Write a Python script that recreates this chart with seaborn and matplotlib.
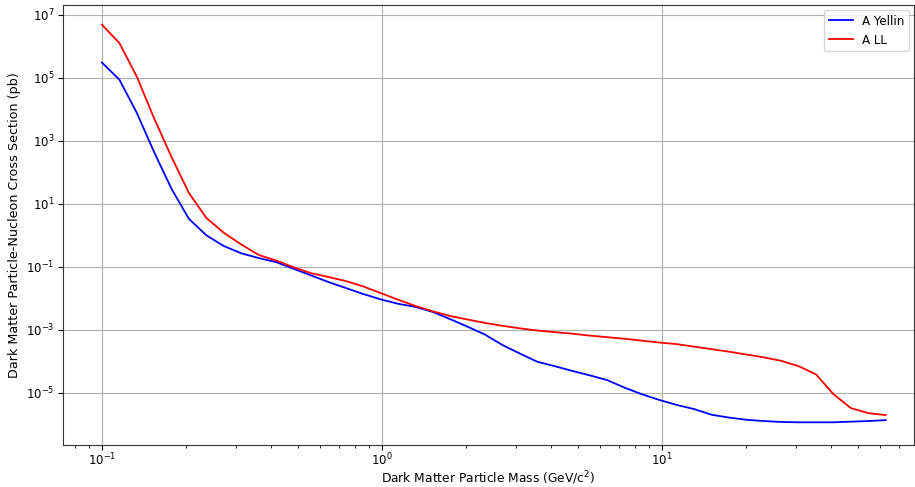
import numpy as np
import pandas as pd
import matplotlib
matplotlib.use("Agg")
import matplotlib.pyplot as plt
import matplotlib.ticker as mticker
import seaborn as sns

# Dark matter particle mass (GeV/c^2)
mass = [0.1000, 0.1154, 0.1331, 0.1536, 0.1773, 0.2046, 0.2361, 0.2725, 0.3145, 0.3629,
        0.4188, 0.4833, 0.5577, 0.6436, 0.7427, 0.8570, 0.9890, 1.141, 1.317, 1.520,
        1.754, 2.024, 2.336, 2.695, 3.110, 3.589, 4.142, 4.780, 5.516, 6.366,
        7.345, 8.477, 9.781, 11.29, 13.02, 15.03, 17.35, 20.02, 23.10, 26.66,
        30.76, 35.50, 40.97, 47.28, 54.56, 62.95]

# log10 of cross sections (pb)
log_yellin = [5.48, 4.94, 3.89, 2.64, 1.47, 0.52, 0.00, -0.34, -0.57, -0.72,
              -0.85, -1.06, -1.27, -1.48, -1.67, -1.86, -2.03, -2.17, -2.27, -2.43,
              -2.66, -2.90, -3.15, -3.48, -3.75, -4.01, -4.15, -4.30, -4.44, -4.59,
              -4.83, -5.04, -5.22, -5.38, -5.51, -5.69, -5.78, -5.85, -5.89, -5.92,
              -5.93, -5.93, -5.93, -5.91, -5.89, -5.86]
log_ll = [6.68, 6.10, 5.04, 3.71, 2.48, 1.34, 0.55, 0.08, -0.29, -0.62,
          -0.80, -1.01, -1.20, -1.32, -1.45, -1.62, -1.83, -2.04, -2.24, -2.41,
          -2.56, -2.67, -2.78, -2.87, -2.95, -3.02, -3.07, -3.12, -3.18, -3.23,
          -3.28, -3.34, -3.40, -3.45, -3.53, -3.61, -3.69, -3.78, -3.87, -3.98,
          -4.15, -4.41, -5.04, -5.48, -5.64, -5.70]

series_names = ["A Yellin", "A LL"]
series_colors = ["blue", "red"]

df = pd.DataFrame({
    "mass": mass * 2,
    "xs": list(10 ** np.array(log_yellin)) + list(10 ** np.array(log_ll)),
    "series": [series_names[0]] * len(mass) + [series_names[1]] * len(mass),
})

fig = plt.figure(figsize=(9.15, 4.87), dpi=100)
ax = fig.add_axes([63 / 915, 42 / 487, 851 / 915, 440 / 487])

sns.lineplot(data=df, x="mass", y="xs", hue="series", palette=dict(zip(series_names, series_colors)),
             linewidth=1.3, ax=ax, sort=False, estimator=None)

ax.set_xscale("log")
ax.set_yscale("log")
ax.set_xlim(0.0726, 10 ** (1 + (914 - 662) / 280))
ax.set_ylim(10 ** -6.65, 10 ** 7.306)
ax.set_yticks([1e-5, 1e-3, 1e-1, 1e1, 1e3, 1e5, 1e7])
ax.yaxis.set_minor_locator(mticker.NullLocator())
ax.xaxis.set_major_locator(mticker.LogLocator(base=10))
ax.xaxis.set_minor_locator(mticker.LogLocator(base=10, subs=np.arange(2, 10)))
ax.xaxis.set_minor_formatter(mticker.NullFormatter())

ax.grid(True, which="major", color="#b0b0b0", linewidth=0.8)
ax.set_axisbelow(True)
for s in ax.spines.values():
    s.set_linewidth(0.8)
    s.set_color("#333333")
ax.tick_params(axis="y", which="major", labelsize=8.5, length=3.5, width=0.8, pad=2.5)
ax.tick_params(axis="x", which="major", labelsize=8.5, length=3.5, width=0.8, pad=1.5)
ax.tick_params(axis="both", which="minor", length=2, width=0.6)

ax.set_xlabel("Dark Matter Particle Mass (GeV/c$^2$)", fontsize=8.8, labelpad=0.5)
ax.set_ylabel("Dark Matter Particle-Nucleon Cross Section (pb)", fontsize=9.2, labelpad=4)

leg = ax.legend(loc="upper right", fontsize=8.6, frameon=True, framealpha=0.8, borderaxespad=0.4)
leg.get_frame().set_edgecolor("#cccccc")

fig.savefig("out.png", dpi=100)
